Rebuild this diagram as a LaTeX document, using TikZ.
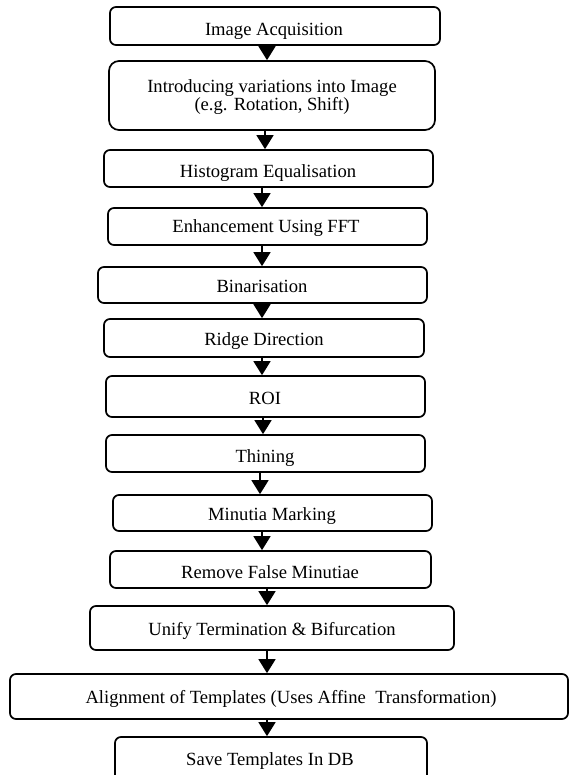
\documentclass[tikz,border=0pt]{standalone}
\usepackage{fontspec}
\setmainfont{Liberation Serif}
\usetikzlibrary{arrows.meta}
\tikzset{
  stepbox/.style={draw=black, line width=1.7pt, rounded corners=6pt, inner sep=0pt, fill=none},
  lbl/.style={anchor=base, inner sep=0pt, font=\fontsize{18.6}{21}\selectfont},
  flow/.style={line width=1.6pt, -{Triangle[width=17pt,length=14pt]}}
}
\begin{document}
\begin{tikzpicture}[x=1pt,y=-1pt]
\useasboundingbox (0,0) rectangle (570,775);
\fill[white] (0,0) rectangle (570,775);
% boxes
\node[stepbox, minimum width=330pt, minimum height=38pt] (b1) at (275,26) {};
\node[stepbox, rounded corners=10pt, minimum width=326pt, minimum height=69pt] (b2) at (272,95.5) {};
\node[stepbox, minimum width=329pt, minimum height=37pt] (b3) at (268.5,168.5) {};
\node[stepbox, minimum width=319pt, minimum height=37pt] (b4) at (267.5,226.5) {};
\node[stepbox, minimum width=329pt, minimum height=36pt] (b5) at (262.5,285) {};
\node[stepbox, minimum width=320pt, minimum height=38pt] (b6) at (264,338) {};
\node[stepbox, minimum width=319pt, minimum height=41pt] (b7) at (265.5,396.5) {};
\node[stepbox, minimum width=319pt, minimum height=37pt] (b8) at (265.5,453.5) {};
\node[stepbox, minimum width=319pt, minimum height=36pt] (b9) at (272.5,513) {};
\node[stepbox, minimum width=321pt, minimum height=37pt] (b10) at (270.5,569.5) {};
\node[stepbox, minimum width=364pt, minimum height=44pt] (b11) at (272,628) {};
\node[stepbox, minimum width=558pt, minimum height=45pt] (b12) at (289,696.5) {};
\node[stepbox, minimum width=312pt, minimum height=48pt] (b13) at (271,761) {};
% labels
\node[lbl] (t1) at (274,36) {Image Acquisition};
\node[lbl] (t2a) at (272,93) {Introducing variations into Image};
\node[lbl] (t2b) at (272,111) {(e.g. Rotation, Shift)};
\node[lbl] (t3) at (268,178) {Histogram Equalisation};
\node[lbl] (t4) at (266,233) {Enhancement Using FFT};
\node[lbl] (t5) at (262,292) {Binarisation};
\node[lbl] (t6) at (264,345) {Ridge Direction};
\node[lbl] (t7) at (265,404) {ROI};
\node[lbl] (t8) at (265,462) {Thining};
\node[lbl] (t9) at (272,520) {Minutia Marking};
\node[lbl] (t10) at (270,578) {Remove False Minutiae};
\node[lbl] (t11) at (272,635) {Unify Termination \& Bifurcation};
\node[lbl] (t12) at (291,703) {Alignment of Templates (Uses Affine\ \ Transformation)};
\node[lbl] (t13) at (270,765) {Save Templates In DB};
% connectors
\draw[flow] ([xshift=-8pt]b1.south) -- ([xshift=-5pt]b2.north);
\draw[flow] ([xshift=-7pt]b2.south) -- ([xshift=-3.5pt]b3.north);
\draw[flow] ([xshift=-6.5pt]b3.south) -- ([xshift=-5.5pt]b4.north);
\draw[flow] ([xshift=-5.5pt]b4.south) -- ([xshift=-0.5pt]b5.north);
\draw[flow] ([xshift=-0.5pt]b5.south) -- ([xshift=-2pt]b6.north);
\draw[flow] ([xshift=-2pt]b6.south) -- ([xshift=-3.5pt]b7.north);
\draw[flow] ([xshift=-2.5pt]b7.south) -- ([xshift=-2.5pt]b8.north);
\draw[flow] ([xshift=-5.5pt]b8.south) -- ([xshift=-12.5pt]b9.north);
\draw[flow] ([xshift=-10.5pt]b9.south) -- ([xshift=-8.5pt]b10.north);
\draw[flow] ([xshift=-3.5pt]b10.south) -- ([xshift=-5pt]b11.north);
\draw[flow] ([xshift=-5pt]b11.south) -- ([xshift=-22pt]b12.north);
\draw[flow] ([xshift=-22pt]b12.south) -- ([xshift=-4pt]b13.north);
\end{tikzpicture}
\end{document}
